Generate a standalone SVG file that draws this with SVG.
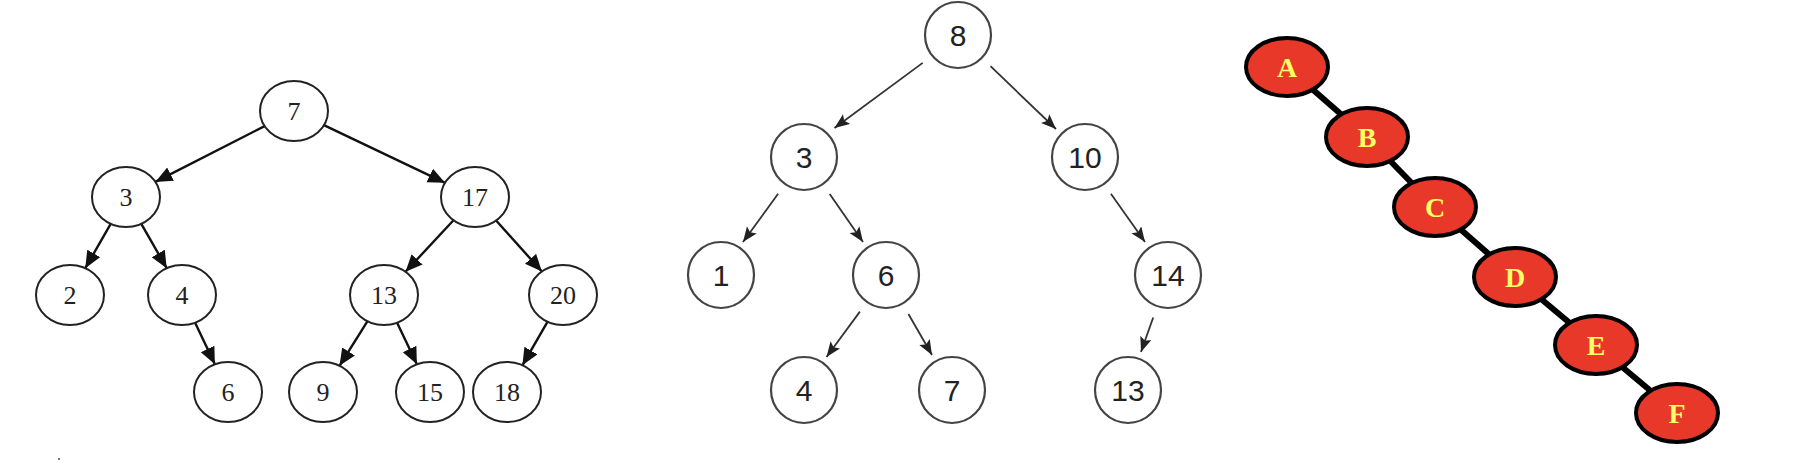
<svg xmlns="http://www.w3.org/2000/svg" width="1796" height="472" viewBox="0 0 1796 472">
<defs>
<marker id="arrL" markerUnits="userSpaceOnUse" markerWidth="20" markerHeight="16" refX="17" refY="7.5" orient="auto">
<path d="M0,0 L17,7.5 L0,15 Z" fill="#111"/>
</marker>
<marker id="arrM" markerUnits="userSpaceOnUse" markerWidth="16" markerHeight="13" refX="15" refY="6" orient="auto">
<path d="M0,0 L15,6 L0,12 L3,6 Z" fill="#222"/>
</marker>
</defs>
<style>
.lc{fill:#fff;stroke:#222;stroke-width:2}
.lt{font-family:"Liberation Serif",serif;font-size:26px;fill:#222;text-anchor:middle}
.le{stroke:#111;stroke-width:2.4;fill:none;marker-end:url(#arrL)}
.mc{fill:#fff;stroke:#444;stroke-width:2.2}
.mt{font-family:"Liberation Sans",Arial,sans-serif;font-size:30px;fill:#222;text-anchor:middle}
.me{stroke:#333;stroke-width:1.8;fill:none;marker-end:url(#arrM)}
.rc{fill:#e8382a;stroke:#000;stroke-width:4}
.rt{font-family:"Liberation Serif",serif;font-weight:bold;font-size:28px;fill:#ffff66;text-anchor:middle}
.re{stroke:#000;stroke-width:6}
</style>
<rect width="1796" height="472" fill="#fff"/>
<g id="connectors">
<line class="le" x1="264.6" y1="126.1" x2="155.4" y2="181.9"/>
<line class="le" x1="323.9" y1="125.2" x2="445.1" y2="182.8"/>
<line class="le" x1="110.7" y1="223.8" x2="85.3" y2="268.2"/>
<line class="le" x1="141.3" y1="223.8" x2="166.7" y2="268.2"/>
<line class="le" x1="453.5" y1="220.2" x2="405.5" y2="271.8"/>
<line class="le" x1="496.1" y1="220.5" x2="541.9" y2="271.5"/>
<line class="le" x1="195.1" y1="322.7" x2="214.9" y2="364.3"/>
<line class="le" x1="367.5" y1="321.2" x2="339.5" y2="365.8"/>
<line class="le" x1="397.1" y1="322.7" x2="416.9" y2="364.3"/>
<line class="le" x1="547.6" y1="321.7" x2="522.4" y2="365.3"/>
<line class="me" x1="922.7" y1="62.9" x2="834.5" y2="128"/>
<line class="me" x1="990.5" y1="66.2" x2="1056" y2="129"/>
<line class="me" x1="778.1" y1="193.8" x2="743" y2="242"/>
<line class="me" x1="829.7" y1="194" x2="863" y2="242"/>
<line class="me" x1="1110.9" y1="193.8" x2="1145" y2="242"/>
<line class="me" x1="859.9" y1="311.6" x2="826.5" y2="357"/>
<line class="me" x1="908.4" y1="314" x2="932" y2="355"/>
<line class="me" x1="1153.2" y1="317.5" x2="1141" y2="352"/>
<line class="re" x1="1287" y1="67" x2="1367" y2="137"/>
<line class="re" x1="1367" y1="137" x2="1435" y2="207"/>
<line class="re" x1="1435" y1="207" x2="1515" y2="277"/>
<line class="re" x1="1515" y1="277" x2="1596" y2="345"/>
<line class="re" x1="1596" y1="345" x2="1677" y2="413"/>
</g>
<g id="L7"><ellipse class="lc" cx="294" cy="111" rx="34" ry="30"/><text class="lt" x="294" y="120">7</text></g>
<g id="L3"><ellipse class="lc" cx="126" cy="197" rx="34" ry="30"/><text class="lt" x="126" y="206">3</text></g>
<g id="L17"><ellipse class="lc" cx="475" cy="197" rx="34" ry="30"/><text class="lt" x="475" y="206">17</text></g>
<g id="L2"><ellipse class="lc" cx="70" cy="295" rx="34" ry="30"/><text class="lt" x="70" y="304">2</text></g>
<g id="L4"><ellipse class="lc" cx="182" cy="295" rx="34" ry="30"/><text class="lt" x="182" y="304">4</text></g>
<g id="L13"><ellipse class="lc" cx="384" cy="295" rx="34" ry="30"/><text class="lt" x="384" y="304">13</text></g>
<g id="L20"><ellipse class="lc" cx="563" cy="295" rx="34" ry="30"/><text class="lt" x="563" y="304">20</text></g>
<g id="L6"><ellipse class="lc" cx="228" cy="392" rx="34" ry="30"/><text class="lt" x="228" y="401">6</text></g>
<g id="L9"><ellipse class="lc" cx="323" cy="392" rx="34" ry="30"/><text class="lt" x="323" y="401">9</text></g>
<g id="L15"><ellipse class="lc" cx="430" cy="392" rx="34" ry="30"/><text class="lt" x="430" y="401">15</text></g>
<g id="L18"><ellipse class="lc" cx="507" cy="392" rx="34" ry="30"/><text class="lt" x="507" y="401">18</text></g>
<g id="M8"><circle class="mc" cx="958" cy="35" r="33"/><text class="mt" x="958" y="46">8</text></g>
<g id="M3"><circle class="mc" cx="804" cy="157" r="33"/><text class="mt" x="804" y="168">3</text></g>
<g id="M10"><circle class="mc" cx="1085" cy="157" r="33"/><text class="mt" x="1085" y="168">10</text></g>
<g id="M1"><circle class="mc" cx="721" cy="275" r="33"/><text class="mt" x="721" y="286">1</text></g>
<g id="M6"><circle class="mc" cx="886" cy="275" r="33"/><text class="mt" x="886" y="286">6</text></g>
<g id="M14"><circle class="mc" cx="1168" cy="275" r="33"/><text class="mt" x="1168" y="286">14</text></g>
<g id="M4"><circle class="mc" cx="804" cy="390" r="33"/><text class="mt" x="804" y="401">4</text></g>
<g id="M7"><circle class="mc" cx="952" cy="390" r="33"/><text class="mt" x="952" y="401">7</text></g>
<g id="M13"><circle class="mc" cx="1128" cy="390" r="33"/><text class="mt" x="1128" y="401">13</text></g>
<g id="RA"><ellipse class="rc" cx="1287" cy="67" rx="41" ry="29"/><text class="rt" x="1287" y="77">A</text></g>
<g id="RB"><ellipse class="rc" cx="1367" cy="137" rx="41" ry="29"/><text class="rt" x="1367" y="147">B</text></g>
<g id="RC"><ellipse class="rc" cx="1435" cy="207" rx="41" ry="29"/><text class="rt" x="1435" y="217">C</text></g>
<g id="RD"><ellipse class="rc" cx="1515" cy="277" rx="41" ry="29"/><text class="rt" x="1515" y="287">D</text></g>
<g id="RE"><ellipse class="rc" cx="1596" cy="345" rx="41" ry="29"/><text class="rt" x="1596" y="355">E</text></g>
<g id="RF"><ellipse class="rc" cx="1677" cy="413" rx="41" ry="29"/><text class="rt" x="1677" y="423">F</text></g>
<rect x="58" y="458" width="2" height="2" fill="#777"/>
</svg>
